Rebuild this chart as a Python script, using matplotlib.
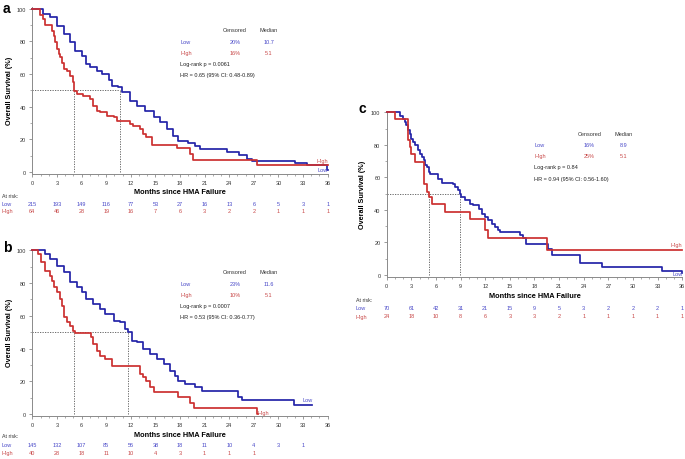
import numpy as np
import matplotlib
matplotlib.use("Agg")
import matplotlib.pyplot as plt
import matplotlib.transforms as mtransforms
from matplotlib.ticker import MultipleLocator

plt.rcParams['font.family'] = ['Liberation Sans', 'DejaVu Sans']

# ---- panel a : KM step data (time in months, survival %) ----
a_low_t = [0, 1.35, 2.2, 3.0, 3.8, 4.6, 5.2, 6.0, 6.6, 7.0, 7.85, 8.5, 9.3, 9.7, 10.5, 10.9,
           11.9, 12.7, 13.7, 14.8, 15.6, 16.4, 17.2, 17.8, 19.0, 19.8, 20.4, 23.7, 25.2,
           26.2, 26.8, 32.0, 33.5, 35.9, 36.0]
a_low_s = [100, 97, 94.7, 89.6, 84.5, 79.4, 74.3, 71.2, 66, 64, 62, 60, 56.3, 52.9, 51.8, 48.8,
           43.7, 40.6, 37.6, 33.5, 30.4, 26.3, 22.2, 19, 18, 16, 14, 12.5, 10.5,
           8, 7, 5.8, 4.0, 1, 1]
a_high_t = [0, 0.94, 1.35, 1.6, 2.4, 2.6, 2.8, 3.0, 3.2, 3.4, 3.6, 3.8, 4.2, 4.6, 4.9, 5.1,
            5.4, 6.2, 7.0, 7.4, 7.85, 8.3, 9.1, 9.9, 10.3, 11.9, 12.3, 13.1, 13.5, 13.9,
            14.6, 17.6, 19.2, 19.6, 27.4, 36.0]
a_high_s = [100, 96, 93.7, 90.2, 86.5, 83.5, 79.4, 75.3, 72.5, 70.2, 67, 63, 62, 59, 55, 49.8,
            47.8, 46.7, 44.7, 40.6, 37.6, 36.5, 34.5, 33.5, 31.4, 29.4, 28, 26.3, 23.3, 21.2,
            16.5, 14.5, 11, 7.3, 4.3, 4.3]

# ---- panel b ----
b_low_t = [0, 1.55, 2.2, 3.0, 3.8, 4.6, 5.4, 6.0, 6.6, 7.4, 8.3, 8.9, 9.9, 10.7, 11.3, 11.7,
           12.1, 12.7, 13.5, 14.4, 15.2, 16.0, 16.8, 17.4, 17.8, 18.6, 19.8, 20.7, 25.1, 25.5,
           31.9, 34.1]
b_low_s = [100, 97.5, 94.7, 90.6, 86.6, 80.4, 77.4, 74.3, 70.3, 67.2, 64.2, 61.1, 57, 56, 51.9, 49.9,
           44.8, 43.8, 39.7, 36.7, 33.6, 30.5, 26.5, 23.4, 20.4, 18.3, 16.3, 14.0, 10.2, 8.6,
           5.7, 5.7]
b_high_t = [0, 0.74, 1.1, 1.55, 2.2, 2.4, 2.7, 3.0, 3.4, 3.6, 3.8, 4.2, 4.6, 5.0, 5.2, 7.2,
            7.4, 7.85, 8.3, 8.9, 9.7, 13.1, 13.5, 13.9, 14.4, 14.8, 17.8, 19.2, 19.7, 27.4, 27.5]
b_high_s = [100, 97.5, 93, 87.6, 84.5, 81.5, 77.4, 74.3, 70.3, 66.2, 59, 56, 54, 51, 49.3, 46.8,
            42.8, 38.7, 35.6, 33.6, 29.5, 24.4, 22.4, 20.4, 16.3, 13.2, 10.2, 6.5, 3.5, 0, 0]

# ---- panel c ----
c_low_t = [0, 1.62, 2.0, 2.2, 2.4, 2.6, 2.8, 3.0, 3.2, 3.4, 3.85, 4.1, 4.3, 4.5, 4.7, 4.9, 5.1,
           5.3, 5.5, 6.3, 6.7, 8.1, 8.3, 8.7, 8.9, 9.1, 9.5, 10.1, 10.5, 11.2, 11.6, 12.0,
           12.4, 12.8, 13.2, 13.6, 13.8, 16.2, 16.6, 17.0, 19.7, 20.1, 23.5, 26.2, 33.5, 36.0]
c_low_s = [100, 98, 96, 94, 92, 89, 86.9, 83.8, 81.8, 79.7, 76.6, 74.6, 72.5, 70.5, 67.4, 66.4, 63.3,
           62.3, 62.3, 59.2, 56.6, 55.7, 54, 52.5, 50, 48, 45.9, 43.9, 42.8, 40.8, 37.7, 35.7,
           33.6, 31.6, 29.5, 27.5, 26.4, 24.8, 23, 19.3, 15.8, 12.5, 7.6, 4.9, 2.5, 1]
c_high_t = [0, 1.0, 2.6, 2.8, 3.0, 3.4, 4.5, 4.9, 5.1, 5.5, 7.1, 10.1, 12.0, 12.4, 19.5, 36.0]
c_high_s = [100, 96, 82.8, 78.7, 74.6, 69.5, 56, 51, 48, 43.9, 38.7, 34.6, 27.5, 23, 15.2, 15.2]

# ---- summary text ----
a_stats = ["20%", "10.7", "16%", "5.1", "Log-rank p = 0.0061", "HR = 0.65 (95% CI: 0.48-0.89)"]
b_stats = ["23%", "11.6", "10%", "5.1", "Log-rank p = 0.0007", "HR = 0.53 (95% CI: 0.36-0.77)"]
c_stats = ["16%", "8.9", "25%", "5.1", "Log-rank p = 0.84", "HR = 0.94 (95% CI: 0.56-1.60)"]
a_medians = [10.7, 5.1]
b_medians = [11.6, 5.1]
c_medians = [8.9, 5.1]

# ---- numbers at risk ----
risk_times = [0, 3, 6, 9, 12, 15, 18, 21, 24, 27, 30, 33, 36]
a_risk_low = [215, 193, 149, 116, 77, 53, 27, 16, 13, 6, 5, 3, 1]
a_risk_high = [64, 46, 28, 19, 16, 7, 6, 3, 2, 2, 1, 1, 1]
b_risk_low = [145, 132, 107, 85, 56, 38, 18, 11, 10, 4, 3, 1]
b_risk_high = [40, 28, 18, 11, 10, 4, 3, 1, 1, 1]
c_risk_low = [70, 61, 42, 31, 21, 15, 9, 5, 3, 2, 2, 2, 1]
c_risk_high = [24, 18, 10, 8, 6, 3, 3, 2, 1, 1, 1, 1, 1]

BLUE = '#2424a8'
RED = '#cc3030'
BLUE_T = '#4848c8'
RED_T = '#c84848'
GRAY = '#8a8a8a'

W, H = 685, 460
fig = plt.figure(figsize=(W / 100, H / 100), dpi=100)


def fy(px):
    return 1 - px / H


def panel(rect, letter, letter_xy, low_t, low_s, high_t, high_s, stats, medians,
          rlow, rhigh, risk_y, ylab_x, xlab_y, lab_x):
    ax = fig.add_axes(rect)
    ax.step(low_t, low_s, where='post', color=BLUE, lw=1.25, clip_on=False, zorder=3)
    ax.step(high_t, high_s, where='post', color=RED, lw=1.25, clip_on=False, zorder=3)
    # median lines
    ax.plot([0, max(medians)], [50, 50], ls=(0, (1.5, 1.5)), color='#555555', lw=0.6)
    for m in medians:
        ax.plot([m, m], [0, 50], ls=(0, (1.5, 1.5)), color='#555555', lw=0.6)
    ax.set_xlim(0, 36)
    ax.set_ylim(-1, 101)
    ax.xaxis.set_major_locator(MultipleLocator(3))
    ax.xaxis.set_minor_locator(MultipleLocator(1))
    ax.yaxis.set_major_locator(MultipleLocator(20))
    ax.yaxis.set_minor_locator(MultipleLocator(10))
    ax.set_yticks([0, 20, 40, 60, 80, 100])
    for s in ['top', 'right']:
        ax.spines[s].set_visible(False)
    for s in ['left', 'bottom']:
        ax.spines[s].set_color(GRAY)
        ax.spines[s].set_linewidth(0.7)
    ax.tick_params(which='major', labelsize=4, length=2.5, width=0.6, color=GRAY,
                   labelcolor='#333333', pad=2)
    ax.tick_params(which='minor', length=1.5, width=0.5, color=GRAY)

    # legend block
    fs = 4
    ax.text(24.7, 87, "Censored", fontsize=fs, ha='center', va='center', color='#333333')
    ax.text(28.8, 87, "Median", fontsize=fs, ha='center', va='center', color='#333333')
    ax.text(18, 80, "Low", fontsize=fs, ha='left', va='center', color=BLUE_T)
    ax.text(24.7, 80, stats[0], fontsize=fs, ha='center', va='center', color=BLUE_T)
    ax.text(28.8, 80, stats[1], fontsize=fs, ha='center', va='center', color=BLUE_T)
    ax.text(18, 73.3, "High", fontsize=fs, ha='left', va='center', color=RED_T)
    ax.text(24.7, 73.3, stats[2], fontsize=fs, ha='center', va='center', color=RED_T)
    ax.text(28.8, 73.3, stats[3], fontsize=fs, ha='center', va='center', color=RED_T)
    ax.text(18, 66.5, stats[4], fontsize=fs, ha='left', va='center', color='#222222')
    ax.text(18, 59.4, stats[5], fontsize=fs, ha='left', va='center', color='#222222')

    fig.text(letter_xy[0] / W, fy(letter_xy[1]), letter, fontsize=10, fontweight='bold',
             ha='left', va='center')
    y_mid = rect[1] + rect[3] * (51 / 102)
    fig.text(ylab_x / W, y_mid, "Overall Survival (%)", fontsize=5.2, fontweight='bold',
             rotation=90, ha='center', va='center')
    x_center = rect[0] + rect[2] / 2
    fig.text(x_center, fy(xlab_y), "Months since HMA Failure", fontsize=5.3,
             fontweight='bold', ha='center', va='center')

    # at-risk table
    tr = mtransforms.blended_transform_factory(ax.transData, fig.transFigure)
    x0 = lab_x / W
    fig.text(x0, fy(risk_y[0]), "At risk:", fontsize=3.8, color='#333333', ha='left', va='center')
    fig.text(x0, fy(risk_y[1]), "Low", fontsize=4, color=BLUE_T, ha='left', va='center')
    fig.text(x0, fy(risk_y[2]), "High", fontsize=4, color=RED_T, ha='left', va='center')
    for t, n in zip(risk_times, rlow):
        ax.text(t, fy(risk_y[1]), str(n), transform=tr, fontsize=4, color=BLUE_T,
                ha='center', va='center', clip_on=False)
    for t, n in zip(risk_times, rhigh):
        ax.text(t, fy(risk_y[2]), str(n), transform=tr, fontsize=4, color=RED_T,
                ha='center', va='center', clip_on=False)
    return ax


ax_a = panel([0.0472, 0.6204, 0.4312, 0.3621], "a", (3, 9),
             a_low_t, a_low_s, a_high_t, a_high_s, a_stats, a_medians,
             a_risk_low, a_risk_high, (197, 205, 212), 9.5, 193, 2)
ax_a.text(36, 7, "High", fontsize=4, color=RED_T, ha='right', va='center')
ax_a.text(36, 1.8, "Low", fontsize=4, color=BLUE_T, ha='right', va='center')

ax_b = panel([0.0472, 0.0943, 0.4312, 0.3629], "b", (3, 248),
             b_low_t, b_low_s, b_high_t, b_high_s, b_stats, b_medians,
             b_risk_low, b_risk_high, (437, 446, 454), 9.5, 436, 2)
ax_b.text(34.2, 9, "Low", fontsize=4, color=BLUE_T, ha='right', va='center')
ax_b.text(27.5, 0.8, "High", fontsize=4, color=RED_T, ha='left', va='center')

ax_c = panel([0.5645, 0.3965, 0.4315, 0.3607], "c", (358, 109),
             c_low_t, c_low_s, c_high_t, c_high_s, c_stats, c_medians,
             c_risk_low, c_risk_high, (300, 309, 317), 362, 297, 356)
ax_c.text(36, 18.8, "High", fontsize=4, color=RED_T, ha='right', va='center')
ax_c.text(36, 1.2, "Low", fontsize=4, color=BLUE_T, ha='right', va='center')

fig.savefig("out.png", dpi=100)
